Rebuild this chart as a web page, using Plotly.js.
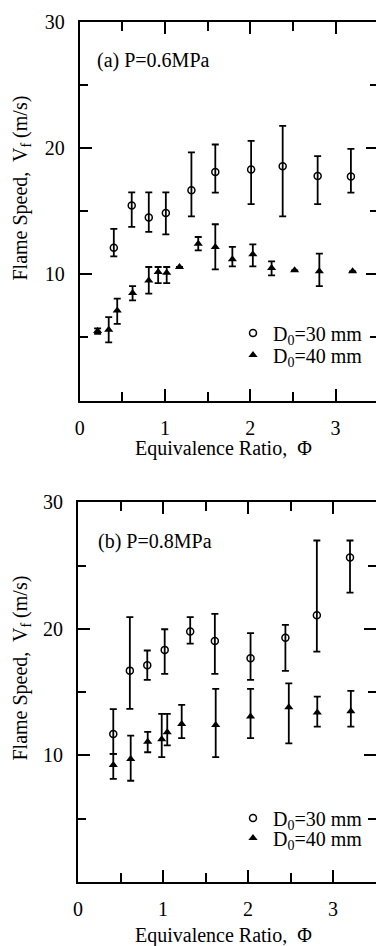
<!DOCTYPE html>
<html>
<head>
<meta charset="utf-8">
<script src="https://cdn.plot.ly/plotly-3.0.1.min.js"></script>
<style>
html, body { margin: 0; padding: 0; overflow: hidden; background: #fff; }
#chart { width: 380px; height: 946px; }
</style>
</head>
<body>
<div id="chart"></div>
<script>
// ---- Panel (a) P = 0.6 MPa ----
const phiA30 = [0.40, 0.61, 0.81, 1.01, 1.31, 1.59, 2.01, 2.38, 2.79, 3.18];
const vA30   = [12.1, 15.45, 14.5, 14.87, 16.67, 18.12, 18.3, 18.57, 17.8, 17.75];
const hiA30  = [13.6, 16.5, 16.5, 16.5, 19.66, 20.29, 20.58, 21.77, 19.37, 19.95];
const loA30  = [11.43, 13.76, 13.36, 13.17, 14.6, 16.48, 15.56, 14.6, 15.56, 16.48];

const phiA40 = [0.21, 0.34, 0.44, 0.62, 0.81, 0.92, 1.02, 1.17, 1.39, 1.59, 1.79, 2.03, 2.25, 2.52, 2.81, 3.20];
const vA40   = [5.5, 5.6, 7.14, 8.52, 9.52, 10.18, 10.13, 10.58, 12.43, 12.17, 11.19, 11.59, 10.5, 10.32, 10.24, 10.24];
const hiA40  = [5.72, 6.61, 8.07, 9.07, 10.58, 10.58, 10.58, 10.58, 12.96, 13.97, 12.17, 12.38, 11.03, 10.32, 11.64, 10.24];
const loA40  = [5.28, 4.6, 6.08, 7.94, 8.47, 9.31, 9.31, 10.58, 11.9, 10.4, 10.63, 10.63, 9.92, 10.32, 9.07, 10.24];

// ---- Panel (b) P = 0.8 MPa ----
const phiB30 = [0.415, 0.61, 0.815, 1.02, 1.32, 1.61, 2.03, 2.44, 2.81, 3.20];
const vB30   = [11.7, 16.7, 17.13, 18.34, 19.79, 19.05, 17.68, 19.29, 21.08, 25.64];
const hiB30  = [13.66, 20.93, 18.29, 19.97, 20.93, 21.19, 19.66, 20.32, 26.98, 26.98];
const loB30  = [10.12, 13.68, 15.97, 16.44, 18.84, 16.44, 15.97, 16.68, 18.2, 22.87];

const phiB40 = [0.415, 0.62, 0.82, 0.985, 1.05, 1.22, 1.62, 2.03, 2.48, 2.815, 3.21];
const vB40   = [9.25, 9.72, 11.09, 11.28, 11.83, 12.49, 12.41, 13.07, 13.8, 13.4, 13.5];
const hiB40  = [10.12, 11.57, 11.86, 13.28, 13.28, 13.99, 15.26, 15.26, 15.7, 14.65, 15.1];
const loB40  = [8.14, 8.0, 10.25, 9.86, 10.8, 11.36, 9.86, 11.36, 10.96, 12.28, 12.28];

const xTickVals = [0, 1, 2, 3];
const xMinorVals = [0.5, 1.5, 2.5];
const yTickVals = [10, 20, 30];
const yMinorVals = [5, 15, 25];
const panelLabels = ['(a) P=0.6MPa', '(b) P=0.8MPa'];
const seriesNames = ['D<sub>0</sub>=30 mm', 'D<sub>0</sub>=40 mm'];
const xTitle = 'Equivalence Ratio,  Φ';
const yTitle = 'Flame Speed,  V<sub>f</sub> (m/s)';

const W = 380, H = 946;
const FONT = '"Liberation Serif", "Times New Roman", "DejaVu Serif", serif';

function errs(v, hi, lo) {
  return {
    type: 'data', symmetric: false,
    array: v.map((y, i) => hi[i] - y),
    arrayminus: v.map((y, i) => y - lo[i]),
    color: '#000', thickness: 1.8, width: 3.5
  };
}

function tr(x, y, hi, lo, open, xa, ya, name, leg) {
  return {
    type: 'scatter', mode: 'markers', x: x, y: y,
    xaxis: xa, yaxis: ya, name: name, legend: leg, showlegend: true,
    error_y: errs(y, hi, lo),
    marker: open
      ? { symbol: 'circle-open', size: 7, color: '#000', line: { width: 1.5, color: '#000' } }
      : { symbol: 'triangle-up', size: 8, color: '#000', line: { width: 0 } }
  };
}

const data = [
  tr(phiA30, vA30, hiA30, loA30, true, 'x', 'y', seriesNames[0], 'legend'),
  tr(phiA40, vA40, hiA40, loA40, false, 'x', 'y', seriesNames[1], 'legend2'),
  tr(phiB30, vB30, hiB30, loB30, true, 'x2', 'y2', seriesNames[0], 'legend3'),
  tr(phiB40, vB40, hiB40, loB40, false, 'x2', 'y2', seriesNames[1], 'legend4')
];

function axBase(extra) {
  return Object.assign({
    showline: true, linecolor: '#000', linewidth: 2, mirror: 'allticks',
    ticks: 'inside', ticklen: 12, tickwidth: 2, tickcolor: '#000',
    showgrid: false, zeroline: false, fixedrange: true,
    tickfont: { family: FONT, size: 20, color: '#000' }
  }, extra);
}
function xAx(dom, anchor) {
  return axBase({
    domain: dom, anchor: anchor, range: [0, 3.5],
    tickmode: 'array', tickvals: xTickVals, ticktext: xTickVals.map(String),
    ticklabelstandoff: 8,
    minor: { tickmode: 'array', tickvals: xMinorVals, ticks: 'inside', ticklen: 9, tickwidth: 2, tickcolor: '#000', showgrid: false }
  });
}
function yAx(dom, anchor) {
  return axBase({
    domain: dom, anchor: anchor, range: [0, 30],
    tickmode: 'array', tickvals: yTickVals, ticktext: yTickVals.map(String),
    ticklabelstandoff: 9,
    minor: { tickmode: 'array', tickvals: yMinorVals, ticks: 'inside', ticklen: 8, tickwidth: 2, tickcolor: '#000', showgrid: false }
  });
}

function legAt(px, py) {
  return {
    x: px / W, y: 1 - py / H, xanchor: 'left', yanchor: 'middle',
    bgcolor: 'rgba(0,0,0,0)', borderwidth: 0,
    font: { family: FONT, size: 20, color: '#000' }
  };
}

function ann(text, px, py, xanchor, angle) {
  return {
    text: text, xref: 'paper', yref: 'paper', x: px / W, y: 1 - py / H,
    xanchor: xanchor, yanchor: 'middle', showarrow: false, textangle: angle || 0,
    font: { family: FONT, size: 20, color: '#000' }
  };
}

const layout = {
  width: W, height: H,
  margin: { l: 0, r: 0, t: 0, b: 0 },
  paper_bgcolor: '#fff', plot_bgcolor: '#fff',
  font: { family: FONT, size: 20, color: '#000' },
  xaxis: xAx([79.7 / W, 378.2 / W], 'y'),
  yaxis: yAx([1 - 400.5 / H, 1 - 22 / H], 'x'),
  xaxis2: xAx([78 / W, 375.5 / W], 'y2'),
  yaxis2: yAx([1 - 882 / H, 1 - 502.3 / H], 'x2'),
  legend: legAt(233, 333),
  legend2: legAt(233, 355),
  legend3: legAt(233, 818),
  legend4: legAt(233, 838),
  annotations: [
    ann(panelLabels[0], 95, 61, 'left'),
    ann(panelLabels[1], 95.7, 541, 'left'),
    ann(xTitle, 223, 448, 'center'),
    ann(xTitle, 223, 935, 'center'),
    ann(yTitle, 21, 188.5, 'center', -90),
    ann(yTitle, 21, 668.5, 'center', -90)
  ]
};

Plotly.newPlot('chart', data, layout, { displayModeBar: false, staticPlot: true });
</script>
</body>
</html>
